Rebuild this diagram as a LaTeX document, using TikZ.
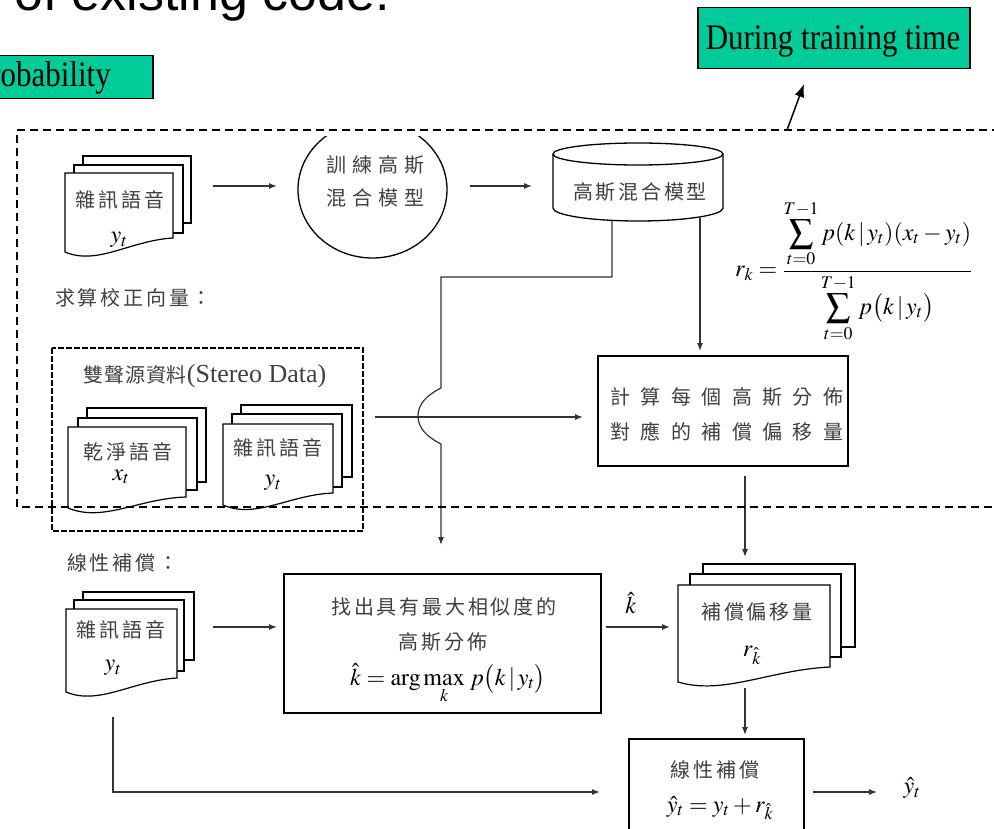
\documentclass[tikz,border=0pt]{standalone}
\usepackage{mathptmx}
\usepackage[no-math]{fontspec}
\setmainfont{Liberation Serif}
\newfontfamily\cjkfont{Noto Sans CJK TC}
\newfontfamily\arialfont{Liberation Sans}
\usetikzlibrary{arrows.meta,calc}
\definecolor{tgreen}{RGB}{0,204,153}
\newcommand\backpage[4]{\filldraw[page] (#1,#2) rectangle (#3,#4);}
\newcommand\frontpage[5]{\filldraw[page] (#1,#4) -- (#1,#2) -- (#3,#2) -- (#3,#5) .. controls ($(#1,#4)!0.6!(#3,#5)+(0,-3)$) and ($(#1,#4)!0.3!(#3,#5)+(0,18)$) .. (#1,#4) -- cycle;}
\newcommand\cj[1][14]{\cjkfont\fontsize{20}{25}\selectfont\addfontfeatures{LetterSpace=#1}}
\newcommand\mth{\fontsize{24}{28}\selectfont}
\newcommand\grn{\fontsize{36}{40}\selectfont\addfontfeatures{FakeStretch=0.86}}
\tikzset{
  page/.style={draw=black, fill=white, line width=1.2pt},
  shapeline/.style={draw=black, line width=1.3pt},
  boxs/.style={draw=black, fill=white, line width=1.5pt, inner sep=0},
  conn/.style={draw=black!80, line width=1.2pt},
  arr/.style={conn, -{Latex[length=8pt,width=6pt]}},
  gbox/.style={draw=black, fill=tgreen, line width=1.5pt, inner sep=0},
  txt/.style={inner sep=0, align=center},
  cjt/.style={txt, font=\cj, text=black!75},
  cjw/.style={txt, font={\cj[#1]}, text=black!75},
  tdash/.style={draw=black, line width=1.4pt, dash pattern=on 8pt off 5pt},
  sdash/.style={draw=black, line width=1.3pt, dash pattern=on 6pt off 2pt},
}
\begin{document}
\begin{tikzpicture}[x=1pt,y=-1pt]
\useasboundingbox (0,0) rectangle (994,829);
\clip (0,0) rectangle (994,829);

% top cut text and green boxes
\node[anchor=base west, inner sep=0, font=\arialfont\fontsize{52}{60}\selectfont] (title) at (14,11) {of existing code.};
\node[gbox, anchor=north west, minimum width=175pt, minimum height=43pt] (probbox) at (-23,55) {};
\node[anchor=base west, inner sep=0, font=\grn] (probtext) at (-27,87) {Probability};
\node[gbox, anchor=north west, minimum width=272pt, minimum height=61pt] (train) at (697,7) {};
\node[anchor=base, inner sep=0, font=\grn] (traintext) at (833,50) {During training time};
\coordinate (trs) at (787,130);
\coordinate (tre) at (804,84);
\draw[black, line width=1.5pt, -{Latex[length=13pt,width=10pt]}] (trs) -- (tre);

% stack 1
\backpage{83}{156}{191}{223}
\backpage{74}{165}{183}{233}
\frontpage{65}{173}{173}{252}{238}
\node[cjt] (s1a) at (120,200) {雜訊語音};
\node[txt, font=\mth] (s1b) at (119,240) {$y_t$};

% circle
\begin{scope}
  \clip (280,137) rectangle (470,262);
  \draw[shapeline] (372.5,189.6) ellipse [x radius=74.5, y radius=68.4];
\end{scope}
\node[cjw=30] (circ1) at (375,165) {訓練高斯};
\node[cjw=30] (circ2) at (375,198) {混合模型};

% cylinder
\path[fill=white] (553,154) -- (553,208) arc[start angle=180, end angle=0, x radius=85, y radius=13] -- (723,154) -- cycle;
\draw[shapeline] (553,154) -- (553,208) arc[start angle=180, end angle=0, x radius=85, y radius=13] -- (723,154);
\draw[shapeline] (638,154) ellipse [x radius=85, y radius=11];
\node[cjt] (cylt) at (640,192) {高斯混合模型};

% compute box
\node[boxs, anchor=north west, minimum width=250pt, minimum height=110pt] (comp) at (597,355) {};
\node[cjw=52] (comp1) at (727,397) {計算每個高斯分佈};
\node[cjw=52] (comp2) at (727,432) {對應的補償偏移量};

% equation
\node[txt, anchor=west, font=\mth] (eq) at (735,271) {$\displaystyle r_k=\frac{\displaystyle\sum_{t=0}^{T-1}p(k\,|\,y_t)(x_t-y_t)}{\displaystyle\sum_{t=0}^{T-1}p\bigl(k\,|\,y_t\bigr)}$};

% labels
\node[cjt, anchor=west] (lab1) at (55,298) {求算校正向量：};
\node[cjt, anchor=west] (lab2) at (67,563) {線性補償：};

% stereo data
\node[txt, text=black!75] (stereo) at (205,376) {{\cj[4]雙聲源資料}{\fontsize{26}{30}\selectfont(Stereo Data)}};
\backpage{87}{408}{206}{482}
\backpage{78}{418}{197}{490}
\frontpage{68}{427}{186}{508}{497}
\node[cjt] (xa) at (128,452) {乾淨語音};
\node[txt, font=\mth] (xb) at (121,477) {$x_t$};
\backpage{241}{405}{352}{477}
\backpage{232}{414}{342}{487}
\frontpage{223}{424}{333}{505}{493}
\node[cjt] (ya) at (278,448) {雜訊語音};
\node[txt, font=\mth] (yb) at (273,483) {$y_t$};
\draw[sdash] (52,348) rectangle (363,531);

% bottom-left stack
\backpage{83}{592}{194}{660}
\backpage{74}{600}{184}{671}
\frontpage{66}{609}{177}{692}{678}
\node[cjt] (s2a) at (121,630) {雜訊語音};
\node[txt, font=\mth] (s2b) at (113,668) {$y_t$};

% argmax box
\node[boxs, anchor=north west, minimum width=317pt, minimum height=139pt] (amax) at (283,573) {};
\node[cjt] (am1) at (444,607) {找出具有最大相似度的};
\node[cjt] (am2) at (443,642) {高斯分佈};
\node[txt, font=\mth] (am3) at (448,684) {$\displaystyle \hat{k}=\arg\max_{k}\,p\bigl(k\,|\,y_t\bigr)$};

% r_k stack
\backpage{703}{564}{855}{647}
\backpage{690}{574}{841}{657}
\frontpage{678}{585}{830}{682}{667}
\node[cjt] (rka) at (757,612) {補償偏移量};
\node[txt, font=\mth] (rkb) at (752,655) {$r_{\hat{k}}$};

% linear compensation box
\node[boxs, anchor=north west, minimum width=175pt, minimum height=100pt] (lin) at (628,738) {};
\node[cjt] (lin1) at (715,770) {線性補償};
\node[txt, font=\mth] (lin2) at (720,808) {$\hat{y}_t=y_t+r_{\hat{k}}$};
\node[txt, font=\mth] (out) at (912,788) {$\hat{y}_t$};

% connectors
\coordinate (c1a) at (213,186); \coordinate (c1b) at (277,186);
\draw[arr] (c1a) -- (c1b);
\coordinate (c2a) at (470,186); \coordinate (c2b) at (532,186);
\draw[arr] (c2a) -- (c2b);
\coordinate (cylR) at (700,218); \coordinate (compTop) at (700,351);
\draw[arr] (cylR) -- (compTop);
\coordinate (cylL) at (612,221);
\coordinate (j1) at (441,277);
\coordinate (j2) at (441,388);
\coordinate (j3) at (441,444);
\coordinate (amaxIn) at (441,545);
\draw[arr] (cylL) |- (j1) -- (j2) .. controls ($(j2)+(-14,7)$) and ($(j2)+(-23,16)$) .. ($(j2)!0.5!(j3)+(-23,0)$) .. controls ($(j3)+(-23,-16)$) and ($(j3)+(-14,-7)$) .. (j3) -- (amaxIn);
\coordinate (st) at (375,417); \coordinate (compIn) at (583,417);
\draw[arr] (st) -- (compIn);
\coordinate (compOut) at (745,476); \coordinate (rkIn) at (745,557);
\draw[arr] (compOut) -- (rkIn);
\coordinate (c7a) at (213,627); \coordinate (c7b) at (277,627);
\draw[arr] (c7a) -- (c7b);
\coordinate (c8a) at (606,627); \coordinate (c8b) at (670,627);
\draw[arr] (c8a) -- (c8b);
\node[txt, font=\mth] (khat) at (631,603) {$\hat{k}$};
\coordinate (rkOut) at (745,688); \coordinate (linIn) at (745,735);
\draw[arr] (rkOut) -- (linIn);
\coordinate (blOut) at (113,717); \coordinate (linL) at (600,792);
\draw[arr] (blOut) |- (linL);
\coordinate (linOut) at (813,792); \coordinate (outIn) at (877,792);
\draw[arr] (linOut) -- (outIn);

% training region
\draw[tdash] (1000,130) -- (17,130) -- (17,507) -- (1000,507);
\end{tikzpicture}
\end{document}
